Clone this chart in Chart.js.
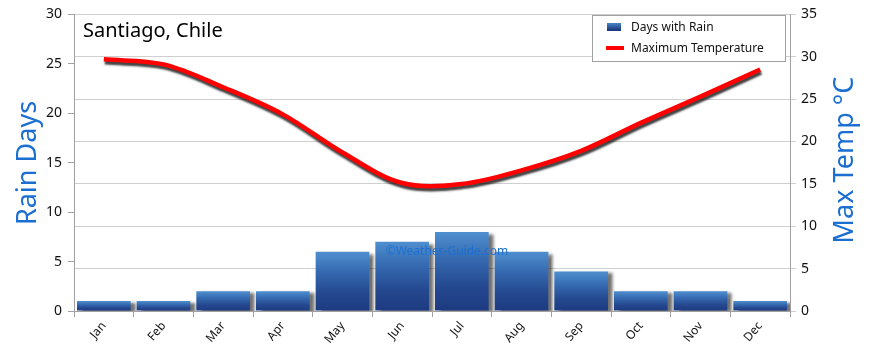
<!DOCTYPE html>
<html>
<head>
<meta charset="utf-8">
<script src="https://cdn.jsdelivr.net/npm/chart.js@4/dist/chart.umd.min.js"></script>
<style>
  html, body { margin: 0; padding: 0; background: #fff; }
  #wrap { width: 870px; height: 352px; }
</style>
</head>
<body>
<div id="wrap"><canvas id="climateChart" width="870" height="352"></canvas></div>
<script>
var months = ['Jan', 'Feb', 'Mar', 'Apr', 'May', 'Jun', 'Jul', 'Aug', 'Sep', 'Oct', 'Nov', 'Dec'];
var rainDays = [1, 1, 2, 2, 6, 7, 8, 6, 4, 2, 2, 1];
var maxTemp = [29.7, 29.1, 26.4, 23.2, 18.7, 15.1, 15.0, 16.6, 18.9, 22.2, 25.3, 28.5];
var rainTicks = [0, 5, 10, 15, 20, 25, 30];
var tempTicks = [0, 5, 10, 15, 20, 25, 30, 35];

var font = "'Noto Sans', sans-serif";
var blueText = '#1c6fd1';

function barGradient(context) {
  var chart = context.chart;
  var y = chart.scales.y;
  if (!y || context.type !== 'data') return '#2d5fa6';
  var top = y.getPixelForValue(context.raw);
  var bottom = y.getPixelForValue(0);
  if (!isFinite(top) || !isFinite(bottom) || top === bottom) return '#2d5fa6';
  var g = chart.ctx.createLinearGradient(0, top, 0, bottom);
  g.addColorStop(0, '#4f8fcf');
  g.addColorStop(0.35, '#3569b0');
  g.addColorStop(0.7, '#24488f');
  g.addColorStop(1, '#1d3a80');
  return g;
}

// drop shadows under bars and line
var shadowPlugin = {
  id: 'shadows',
  beforeDatasetDraw: function (chart, args) {
    var ctx = chart.ctx;
    ctx.save();
    if (args.meta.type === 'bar') {
      ctx.shadowColor = 'rgba(0,0,0,0.55)';
      ctx.shadowOffsetX = 5;
      ctx.shadowOffsetY = 2;
      ctx.shadowBlur = 3;
    } else {
      ctx.shadowColor = 'rgba(0,0,0,0.75)';
      ctx.shadowOffsetX = 1;
      ctx.shadowOffsetY = 3;
      ctx.shadowBlur = 2;
    }
  },
  afterDatasetDraw: function (chart) {
    chart.ctx.restore();
  }
};

// title, axis titles, legend box, watermark
var decorPlugin = {
  id: 'decor',
  afterDraw: function (chart) {
    var ctx = chart.ctx;
    var area = chart.chartArea;
    ctx.save();

    ctx.fillStyle = '#000';
    ctx.font = '20px ' + font;
    ctx.textAlign = 'left';
    ctx.textBaseline = 'middle';
    ctx.fillText('Santiago, Chile', area.left + 9, 31);

    ctx.fillStyle = blueText;
    ctx.font = '27px ' + font;
    ctx.textAlign = 'center';
    ctx.save();
    ctx.translate(28, 163);
    ctx.rotate(-Math.PI / 2);
    ctx.fillText('Rain Days', 0, 0);
    ctx.restore();
    ctx.save();
    ctx.translate(845, 160);
    ctx.rotate(-Math.PI / 2);
    ctx.fillText('Max Temp °C', 0, 0);
    ctx.restore();

    ctx.font = '12px ' + font;
    ctx.fillText('©Weather-Guide.com', 447, 252);

    // legend
    var lx = 592, ly = 15, lw = 193, lh = 46;
    ctx.fillStyle = '#fff';
    ctx.fillRect(lx, ly, lw, lh);
    ctx.strokeStyle = '#a0a0a0';
    ctx.lineWidth = 1;
    ctx.strokeRect(lx + 0.5, ly + 0.5, lw, lh);
    var g = ctx.createLinearGradient(0, ly + 7, 0, ly + 15);
    g.addColorStop(0, '#4f8fcf');
    g.addColorStop(1, '#1d3a80');
    ctx.fillStyle = g;
    ctx.fillRect(lx + 15, ly + 8, 14, 8);
    ctx.fillStyle = '#ff0000';
    ctx.fillRect(lx + 14, ly + 31, 18, 4);
    ctx.fillStyle = '#111';
    ctx.font = '12px ' + font;
    ctx.textAlign = 'left';
    ctx.fillText('Days with Rain', lx + 39, ly + 13);
    ctx.fillText('Maximum Temperature', lx + 39, ly + 34);

    ctx.restore();
  }
};

var ctx = document.getElementById('climateChart').getContext('2d');
var climateChart = new Chart(ctx, {
  type: 'bar',
  data: {
    labels: months,
    datasets: [{
      type: 'bar',
      label: 'Days with Rain',
      data: rainDays,
      yAxisID: 'y',
      backgroundColor: barGradient,
      borderWidth: 0,
      barPercentage: 0.9,
      categoryPercentage: 1.0,
      order: 2
    }, {
      type: 'line',
      label: 'Maximum Temperature',
      data: maxTemp,
      yAxisID: 'y1',
      borderColor: '#ff0000',
      borderWidth: 4.5,
      pointRadius: 0,
      tension: 0.35,
      fill: false,
      order: 1
    }]
  },
  options: {
    responsive: false,
    animation: false,
    layout: { padding: { top: 10, left: 0, right: 0, bottom: 0 } },
    plugins: {
      legend: { display: false },
      tooltip: { enabled: false }
    },
    scales: {
      x: {
        offset: true,
        grid: { display: true, offset: true, drawOnChartArea: false, tickLength: 6, color: '#a0a0a0' },
        border: { color: '#a0a0a0' },
        ticks: { minRotation: 50, maxRotation: 50, padding: 2, color: '#111', font: { family: font, size: 12 } },
        afterFit: function (scale) { scale.height = 41; }
      },
      y: {
        position: 'left',
        min: 0,
        max: 30,
        afterBuildTicks: function (scale) { scale.ticks = rainTicks.map(function (v) { return { value: v }; }); },
        grid: { drawOnChartArea: false, tickLength: 6, color: '#a0a0a0' },
        border: { color: '#a0a0a0' },
        ticks: { padding: 6, color: '#111', font: { family: font, size: 14 } },
        afterFit: function (scale) { scale.width = 74; }
      },
      y1: {
        position: 'right',
        min: 0,
        max: 35,
        afterBuildTicks: function (scale) { scale.ticks = tempTicks.map(function (v) { return { value: v }; }); },
        grid: { drawOnChartArea: true, tickLength: 6, color: '#cfcfcf' },
        border: { color: '#a0a0a0' },
        ticks: { padding: 5, color: '#111', font: { family: font, size: 14 } },
        afterFit: function (scale) { scale.width = 80; }
      }
    }
  },
  plugins: [shadowPlugin, decorPlugin]
});
</script>
</body>
</html>
